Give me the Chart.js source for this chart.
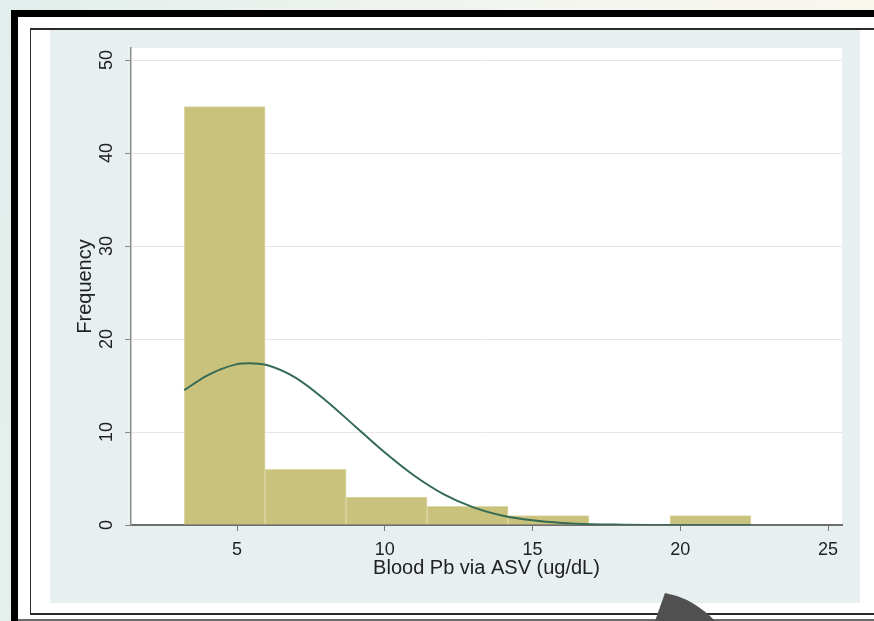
<!DOCTYPE html>
<html>
<head>
<meta charset="utf-8">
<title>Blood Pb histogram</title>
<script src="https://cdn.jsdelivr.net/npm/chart.js@4.4.0/dist/chart.umd.min.js"></script>
<style>
  html, body { margin: 0; padding: 0; }
  body {
    width: 874px; height: 621px; position: relative; overflow: hidden;
    background: linear-gradient(100deg, #e2eeec 0%, #f3f5ef 55%, #fbf8ee 100%);
    font-family: "Liberation Sans", Arial, sans-serif;
  }
  #frame {
    position: absolute; left: 11px; top: 10px; width: 863px; height: 611px;
    background: #fff; border-left: 7px solid #000; border-top: 7px solid #000;
    box-sizing: border-box;
  }
  #inner {
    position: absolute; left: 30px; top: 28px; width: 850px; height: 587px;
    border-style: solid; border-color: #2b2b2b; border-width: 2px 0 2px 1px;
    box-sizing: border-box;
  }
  #bottomLine { position: absolute; left: 18px; top: 619px; width: 856px; height: 2px; background: #6a6a6a; }
  #chart { position: absolute; left: 50px; top: 30px; background: #e8eff1; }
  #arrow {
    position: absolute; left: 650px; top: 590px; width: 70px; height: 31px;
    background: #505050;
    clip-path: polygon(15px 3px, 27px 6px, 37px 10px, 44px 14px, 50px 18px, 58px 24px, 65px 31px, 5px 31px);
  }
</style>
</head>
<body>
<div id="frame"></div>
<div id="inner"></div>
<div id="bottomLine"></div>
<canvas id="chart" width="810" height="573"></canvas>
<div id="arrow"></div>
<script>
// histogram bins (centre of each bin, width 2.74)
const binCenters = [4.58, 7.32, 10.06, 12.80, 15.54, 18.28, 21.02];
const binCounts  = [45, 6, 3, 2, 1, 0, 1];

// normal density overlay
const curveX = [3.21, 4, 5, 5.4, 6, 7, 8, 9, 10, 11, 12, 13, 14, 15, 16, 17, 18, 19, 20, 22.39];
const curveY = [14.5, 16.1, 17.3, 17.4, 17.2, 15.8, 13.4, 10.6, 7.8, 5.3, 3.3, 1.9, 1.0, 0.5, 0.22, 0.09, 0.04, 0.01, 0, 0];

const xTicks = [5, 10, 15, 20, 25];
const yTicks = [0, 10, 20, 30, 40, 50];

const FONT = '"Liberation Sans", Arial, sans-serif';

// white plot region on the light blue graph region
const plotBg = {
    id: 'plotBg',
    beforeDraw(chart) {
        const { ctx, chartArea: a } = chart;
        ctx.save();
        ctx.fillStyle = '#ffffff';
        ctx.fillRect(a.left, a.top, a.right - a.left, a.bottom - a.top);
        ctx.restore();
    }
};

// y tick labels are vertical in the original
const yLabels = {
    id: 'yLabels',
    afterDraw(chart) {
        const { ctx } = chart;
        const y = chart.scales.y;
        ctx.save();
        ctx.font = '18px ' + FONT;
        ctx.fillStyle = '#222';
        ctx.textAlign = 'center';
        ctx.textBaseline = 'middle';
        yTicks.forEach(v => {
            ctx.save();
            ctx.translate(y.right - 24, y.getPixelForValue(v));
            ctx.rotate(-Math.PI / 2);
            ctx.fillText(String(v), 0, 0);
            ctx.restore();
        });
        ctx.restore();
    }
};

new Chart(document.getElementById('chart'), {
    type: 'bar',
    data: {
        datasets: [{
            type: 'line',
            data: curveX.map((x, i) => ({ x: x, y: curveY[i] })),
            borderColor: '#356b55',
            borderWidth: 2,
            pointRadius: 0,
            cubicInterpolationMode: 'monotone',
            fill: false,
            order: 1
        }, {
            type: 'bar',
            data: binCenters.map((x, i) => ({ x: x, y: binCounts[i] })),
            backgroundColor: '#c9c27d',
            borderColor: '#ddd8a6',
            borderWidth: 1,
            barPercentage: 1,
            categoryPercentage: 1,
            order: 2
        }]
    },
    options: {
        responsive: false,
        animation: false,
        layout: { padding: { top: 18, right: 18, left: 0, bottom: 0 } },
        plugins: { legend: { display: false }, tooltip: { enabled: false } },
        scales: {
            x: {
                type: 'linear',
                offset: false,
                min: 1.41,
                max: 25.47,
                afterBuildTicks: s => { s.ticks = xTicks.map(v => ({ value: v })); },
                afterFit: s => { s.height = 78; },
                grid: { offset: false, drawOnChartArea: false, tickLength: 6, tickColor: '#777' },
                border: { color: '#6f6f6f', width: 2 },
                ticks: { font: { family: FONT, size: 18 }, color: '#222', padding: 8 },
                title: {
                    display: true,
                    text: 'Blood Pb via ASV (ug/dL)',
                    font: { family: FONT, size: 20 },
                    color: '#222',
                    padding: { top: 0, bottom: 23 }
                }
            },
            y: {
                min: 0,
                max: 51.3,
                z: 1,
                afterBuildTicks: s => { s.ticks = yTicks.map(v => ({ value: v })); },
                afterFit: s => { s.width = 81; },
                grid: {
                    color: c => (c.tick && c.tick.value === 0) ? 'rgba(0,0,0,0)' : '#e6e6e6',
                    tickLength: 6,
                    tickColor: '#888'
                },
                border: { color: '#8c8c8c', width: 1.5 },
                ticks: { display: false },
                title: {
                    display: true,
                    text: 'Frequency',
                    font: { family: FONT, size: 20 },
                    color: '#222',
                    padding: { top: 23, bottom: 0 }
                }
            }
        }
    },
    plugins: [plotBg, yLabels]
});
</script>
</body>
</html>
